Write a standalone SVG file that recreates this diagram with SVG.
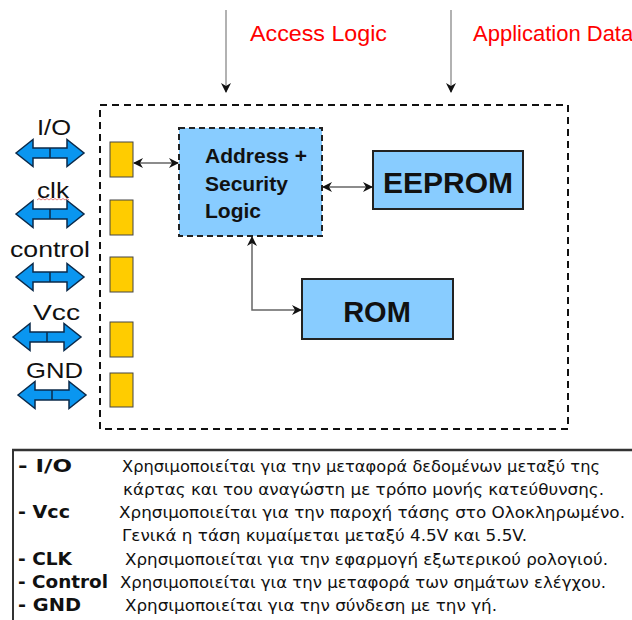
<svg xmlns="http://www.w3.org/2000/svg" width="632" height="620" viewBox="0 0 632 620">
<style>
.lbl{font-family:"Liberation Sans",Arial,sans-serif;font-size:22px;fill:#111}
.top{font-family:"Liberation Sans",Arial,sans-serif;font-size:22px;fill:#ff0000}
.box{fill:#88ccff;stroke:#222;stroke-width:2}
.pad{fill:#ffcc00;stroke:#444;stroke-width:1}
.bt{font-family:"Liberation Sans",Arial,sans-serif;font-weight:bold;fill:#111}
.dbl{fill:#0a96f0;stroke:#0b2a4a;stroke-width:1.5;stroke-linejoin:miter}
.conn{fill:none;stroke:#666;stroke-width:1.5}
.tt{font-family:"DejaVu Sans","Noto Sans",sans-serif;font-size:15.5px;fill:#111}
.tl{font-family:"DejaVu Sans","Noto Sans",sans-serif;font-size:17px;font-weight:bold;fill:#111}
</style>
<defs>
<marker id="ah" viewBox="0 0 10 10" refX="9" refY="5" markerWidth="10" markerHeight="10" markerUnits="userSpaceOnUse" orient="auto-start-reverse">
<path d="M0,0 L10,5 L0,10 L3,5 z" fill="#111"/>
</marker>
<path id="dblarrow" d="M-34,0 L-17,-13.5 L-17,-5 L17,-5 L17,-13.5 L34,0 L17,13.5 L17,5 L-17,5 L-17,13.5 Z"/>
</defs>
<rect width="632" height="620" fill="#ffffff"/>

<g id="top-labels">
<text class="top" x="250" y="41" textLength="137" lengthAdjust="spacingAndGlyphs">Access Logic</text>
<text class="top" x="473" y="41">Application Data</text>
</g>

<g id="card">
<rect x="100" y="105" width="468" height="324" fill="none" stroke="#111" stroke-width="2" stroke-dasharray="7,5"/>
</g>

<g id="pads">
<rect class="pad" x="110" y="142" width="23" height="35"/>
<rect class="pad" x="110" y="200" width="23" height="35"/>
<rect class="pad" x="110" y="257" width="23" height="35"/>
<rect class="pad" x="110" y="322" width="23" height="35"/>
<rect class="pad" x="110" y="373" width="23" height="34"/>
</g>

<g id="pin-io">
<text class="lbl" x="37" y="135" textLength="34" lengthAdjust="spacingAndGlyphs">I/O</text>
<use href="#dblarrow" class="dbl" transform="translate(50,153)"/>
<line x1="50" y1="148" x2="50" y2="158" stroke="#0b2a4a" stroke-width="1.5"/>
</g>
<g id="pin-clk">
<text class="lbl" x="37" y="198" textLength="32" lengthAdjust="spacingAndGlyphs">clk</text>
<path d="M37,200 l2,-1.5 l2,1.5 l2,-1.5 l2,1.5 l2,-1.5 l2,1.5 l2,-1.5 l2,1.5 l2,-1.5 l2,1.5 l2,-1.5 l2,1.5 l2,-1.5 l2,1.5 l2,-1.5 l2,1.5" fill="none" stroke="#e06060" stroke-width="0.8"/>
<use href="#dblarrow" class="dbl" transform="translate(50,214)"/>
<line x1="50" y1="209" x2="50" y2="219" stroke="#0b2a4a" stroke-width="1.5"/>
</g>
<g id="pin-control">
<text class="lbl" x="10" y="257" textLength="80" lengthAdjust="spacingAndGlyphs">control</text>
<use href="#dblarrow" class="dbl" transform="translate(50,277)"/>
<line x1="50" y1="272" x2="50" y2="282" stroke="#0b2a4a" stroke-width="1.5"/>
</g>
<g id="pin-vcc">
<text class="lbl" x="33" y="320" textLength="47" lengthAdjust="spacingAndGlyphs">Vcc</text>
<use href="#dblarrow" class="dbl" transform="translate(47,337)"/>
<line x1="47" y1="332" x2="47" y2="342" stroke="#0b2a4a" stroke-width="1.5"/>
</g>
<g id="pin-gnd">
<text class="lbl" x="26" y="378" textLength="57" lengthAdjust="spacingAndGlyphs">GND</text>
<use href="#dblarrow" class="dbl" transform="translate(52,395)"/>
<line x1="52" y1="390" x2="52" y2="400" stroke="#0b2a4a" stroke-width="1.5"/>
</g>

<g id="address-logic">
<rect class="box" x="179" y="128" width="143" height="108" stroke-dasharray="6,4"/>
<text class="bt" font-size="21" x="205" y="163">Address +</text>
<text class="bt" font-size="21" x="205" y="191">Security</text>
<text class="bt" font-size="21" x="205" y="218">Logic</text>
</g>

<g id="eeprom">
<rect class="box" x="373" y="151" width="150" height="58"/>
<text class="bt" font-size="30" x="448" y="193" text-anchor="middle">EEPROM</text>
</g>

<g id="rom">
<rect class="box" x="302" y="279" width="151" height="60"/>
<text class="bt" font-size="29" x="377" y="322" text-anchor="middle">ROM</text>
</g>

<g id="connectors">
<line x1="226" y1="10" x2="226" y2="92" stroke="#999" stroke-width="1.5" marker-end="url(#ah)"/>
<line x1="451" y1="10" x2="451" y2="92" stroke="#999" stroke-width="1.5" marker-end="url(#ah)"/>
<line class="conn" x1="134" y1="163" x2="178" y2="163" marker-start="url(#ah)" marker-end="url(#ah)"/>
<line class="conn" x1="323" y1="187" x2="372" y2="187" marker-start="url(#ah)" marker-end="url(#ah)"/>
<path class="conn" d="M252,237 V310 H301" marker-start="url(#ah)" marker-end="url(#ah)"/>
</g>

<g id="legend">
<line x1="12" y1="450" x2="632" y2="450" stroke="#333" stroke-width="2.5"/>
<line x1="13" y1="449" x2="13" y2="620" stroke="#333" stroke-width="2"/>
<text class="tl" x="18" y="472" textLength="54" lengthAdjust="spacingAndGlyphs">- I/O</text>
<text class="tt" x="122" y="472" textLength="478" lengthAdjust="spacingAndGlyphs">Χρησιμοποιείται για την μεταφορά δεδομένων μεταξύ της</text>
<text class="tt" x="123" y="495" textLength="481" lengthAdjust="spacingAndGlyphs">κάρτας και του αναγώστη με τρόπο μονής κατεύθυνσης.</text>
<text class="tl" x="18" y="518" textLength="52" lengthAdjust="spacingAndGlyphs">- Vcc</text>
<text class="tt" x="119" y="518" textLength="506" lengthAdjust="spacingAndGlyphs">Χρησιμοποιείται για την παροχή τάσης στο Ολοκληρωμένο.</text>
<text class="tt" x="122" y="541" textLength="405" lengthAdjust="spacingAndGlyphs">Γενικά η τάση κυμαίμεται μεταξύ 4.5V και 5.5V.</text>
<text class="tl" x="18" y="565" textLength="54" lengthAdjust="spacingAndGlyphs">- CLK</text>
<text class="tt" x="125" y="565" textLength="483" lengthAdjust="spacingAndGlyphs">Χρησιμοποιείται για την εφαρμογή εξωτερικού ρολογιού.</text>
<text class="tl" x="18" y="588" textLength="90" lengthAdjust="spacingAndGlyphs">- Control</text>
<text class="tt" x="120" y="588" textLength="486" lengthAdjust="spacingAndGlyphs">Χρησιμοποιείται για την μεταφορά των σημάτων ελέγχου.</text>
<text class="tl" x="18" y="611" textLength="63" lengthAdjust="spacingAndGlyphs">- GND</text>
<text class="tt" x="125" y="611" textLength="372" lengthAdjust="spacingAndGlyphs">Χρησιμοποιείται για την σύνδεση με την γή.</text>
</g>
</svg>
